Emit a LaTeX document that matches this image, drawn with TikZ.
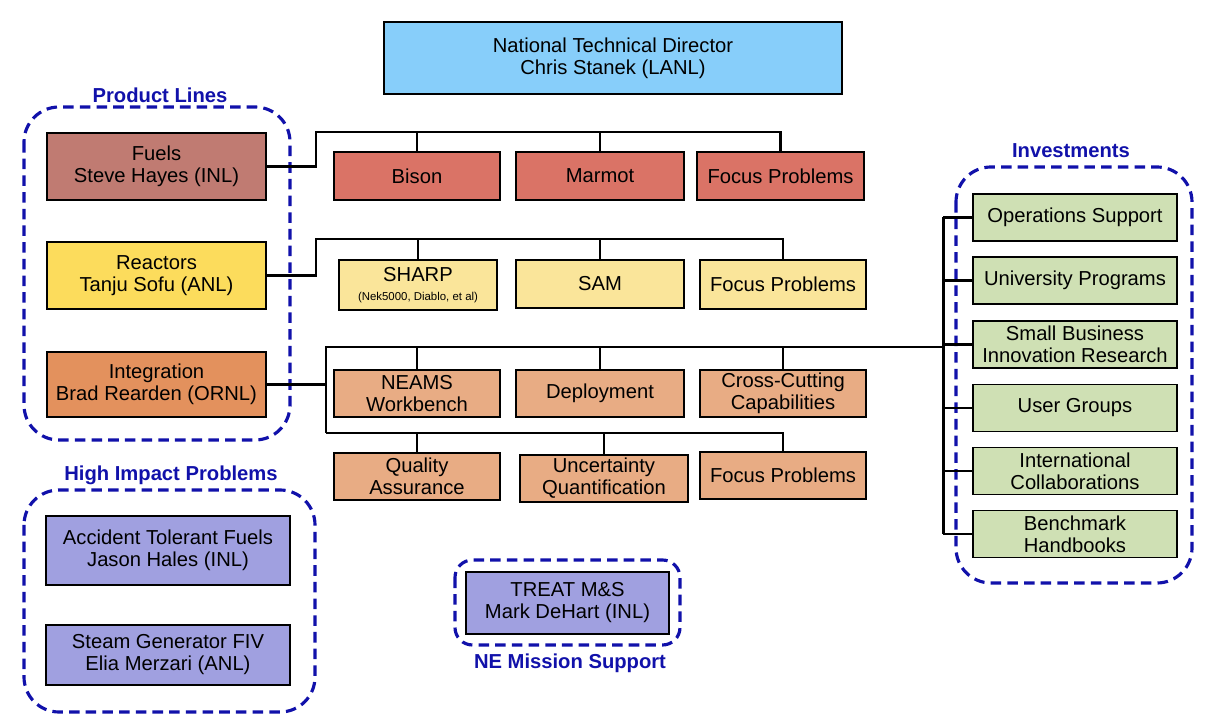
\documentclass[tikz,border=0pt]{standalone}
\usepackage{fontspec}
\setmainfont{Liberation Sans}
\usetikzlibrary{calc}

\definecolor{directorblue}{RGB}{135,206,250}
\definecolor{fuelsbrown}{RGB}{192,123,114}
\definecolor{fuelsred}{RGB}{218,115,102}
\definecolor{reactorsyellow}{RGB}{252,220,92}
\definecolor{reactorslight}{RGB}{250,229,154}
\definecolor{integorange}{RGB}{227,145,93}
\definecolor{integlight}{RGB}{232,172,132}
\definecolor{investgreen}{RGB}{207,224,180}
\definecolor{hipurple}{RGB}{160,160,224}
\definecolor{groupblue}{RGB}{17,17,170}

\tikzset{
  wh/.style 2 args = {minimum width = #1 * 0.02cm, minimum height = #2 * 0.02cm},
  unit/.style = {draw = black, line width = 1.1pt, inner sep = 0pt, align = center,
    font = \fontsize{11.5}{12.5}\selectfont},
  wire/.style = {draw = black, line width = 1.7pt},
  group/.style = {draw = groupblue, line width = 1.8pt, dash pattern = on 6pt off 3.5pt},
  grouplabel/.style = {text = groupblue, font = \fontsize{11.5}{12.5}\selectfont\bfseries}
}

\begin{document}
\begin{tikzpicture}[x = 0.02cm, y = -0.02cm]
    \useasboundingbox (0, 0) rectangle (1225, 722);

    % director
    \node[unit, fill = directorblue, wh = {458}{72}] (director) at (613, 58)
      {National Technical Director\\Chris Stanek (LANL)};

    % product lines
    \draw[group, rounded corners = 0.7cm] (24, 107) rectangle (290, 440);
    \node[grouplabel] (productlbl) at (160, 95) {Product Lines};
    \node[unit, fill = fuelsbrown, wh = {219}{67}] (fuels) at (156.5, 166.5)
      {Fuels\\Steve Hayes (INL)};
    \node[unit, fill = reactorsyellow, wh = {219}{67}] (reactors) at (156.5, 275.5)
      {Reactors\\Tanju Sofu (ANL)};
    \node[unit, fill = integorange, wh = {219}{65}] (integration) at (156.5, 384.5)
      {Integration\\Brad Rearden (ORNL)};

    % fuels row
    \node[unit, fill = fuelsred, wh = {166}{48}] (bison) at (417, 176) {Bison};
    \node[unit, fill = fuelsred, wh = {168}{48}] (marmot) at (600, 176) {Marmot};
    \node[unit, fill = fuelsred, wh = {167}{48}] (fuelsfocus) at (780.5, 176) {Focus Problems};

    % reactors row
    \node[unit, fill = reactorslight, wh = {158}{50}] (sharp) at (418, 285)
      {SHARP\\[-2pt]{\fontsize{6.5}{8}\selectfont(Nek5000, Diablo, et al)}};
    \node[unit, fill = reactorslight, wh = {168}{48}] (sam) at (600, 284) {SAM};
    \node[unit, fill = reactorslight, wh = {166}{49}] (reactorsfocus) at (783, 284.5) {Focus Problems};

    % integration rows
    \node[unit, fill = integlight, wh = {166}{47}] (neams) at (417, 393.5) {NEAMS\\Workbench};
    \node[unit, fill = integlight, wh = {168}{47}] (deployment) at (600, 393.5) {Deployment};
    \node[unit, fill = integlight, wh = {166}{47}] (crosscut) at (783, 393.5) {Cross-Cutting\\Capabilities};
    \node[unit, fill = integlight, wh = {166}{47}] (quality) at (417, 476.5) {Quality\\Assurance};
    \node[unit, fill = integlight, wh = {168}{47}] (uncertainty) at (604, 478.5) {Uncertainty\\Quantification};
    \node[unit, fill = integlight, wh = {166}{47}] (integfocus) at (783, 475.5) {Focus Problems};

    % investments
    \draw[group, rounded corners = 0.7cm] (956, 167) rectangle (1192, 583);
    \node[grouplabel] (investlbl) at (1071, 151) {Investments};
    \node[unit, fill = investgreen, wh = {204}{47}] (operations) at (1075, 217.5) {Operations Support};
    \node[unit, fill = investgreen, wh = {204}{47}] (university) at (1075, 280.5) {University Programs};
    \node[unit, fill = investgreen, wh = {204}{47}] (sbir) at (1075, 344.5) {Small Business\\Innovation Research};
    \node[unit, fill = investgreen, wh = {204}{47}] (usergroups) at (1075, 408) {User Groups};
    \node[unit, fill = investgreen, wh = {204}{47}] (international) at (1075, 471) {International\\Collaborations};
    \node[unit, fill = investgreen, wh = {204}{47}] (benchmark) at (1075, 534) {Benchmark\\Handbooks};

    % high impact problems
    \draw[group, rounded corners = 0.7cm] (24, 490) rectangle (315, 712);
    \node[grouplabel] (hiplbl) at (171, 475) {High Impact Problems};
    \node[unit, fill = hipurple, wh = {244}{69}] (atf) at (168, 550.5)
      {Accident Tolerant Fuels\\Jason Hales (INL)};
    \node[unit, fill = hipurple, wh = {244}{60}] (steam) at (168, 655)
      {Steam Generator FIV\\Elia Merzari (ANL)};

    % ne mission support
    \draw[group, rounded corners = 0.35cm] (455, 560) rectangle (680, 645);
    \node[grouplabel] (nelbl) at (570, 663) {NE Mission Support};
    \node[unit, fill = hipurple, wh = {203}{62}] (treat) at (567.5, 603)
      {TREAT M\&S\\Mark DeHart (INL)};

    % buses
    \coordinate (fuelsbus) at (316, 132);
    \coordinate (reactorsbus) at (316, 239);
    \coordinate (integbus) at (326, 347);
    \coordinate (integbusb) at (326, 433);
    \coordinate (investtop) at (943, 217.5);
    \coordinate (investbot) at (943, 534);

    \draw[wire] (fuels.east) -| (fuelsbus) -| (fuelsfocus.north);
    \draw[wire] (bison.north) -- (bison.north |- fuelsbus);
    \draw[wire] (marmot.north) -- (marmot.north |- fuelsbus);

    \draw[wire] (reactors.east) -| (reactorsbus) -| (reactorsfocus.north);
    \draw[wire] (sharp.north) -- (sharp.north |- reactorsbus);
    \draw[wire] (sam.north) -- (sam.north |- reactorsbus);

    \draw[wire] (integration.east) -- (integration.east -| integbus);
    \draw[wire] (integbusb) -- (integbus) -- (integbus -| investtop);
    \draw[wire] (crosscut.north) -- (crosscut.north |- integbus);
    \draw[wire] (neams.north) -- (neams.north |- integbus);
    \draw[wire] (deployment.north) -- (deployment.north |- integbus);
    \draw[wire] (integbusb) -| (integfocus.north);
    \draw[wire] (quality.north) -- (quality.north |- integbusb);
    \draw[wire] (uncertainty.north) -- (uncertainty.north |- integbusb);

    \draw[wire] (investtop) -- (investbot);
    \foreach \inv in {operations, university, sbir, usergroups, international, benchmark}
      \draw[wire] (\inv.west) -- (\inv.west -| investtop);
\end{tikzpicture}
\end{document}
